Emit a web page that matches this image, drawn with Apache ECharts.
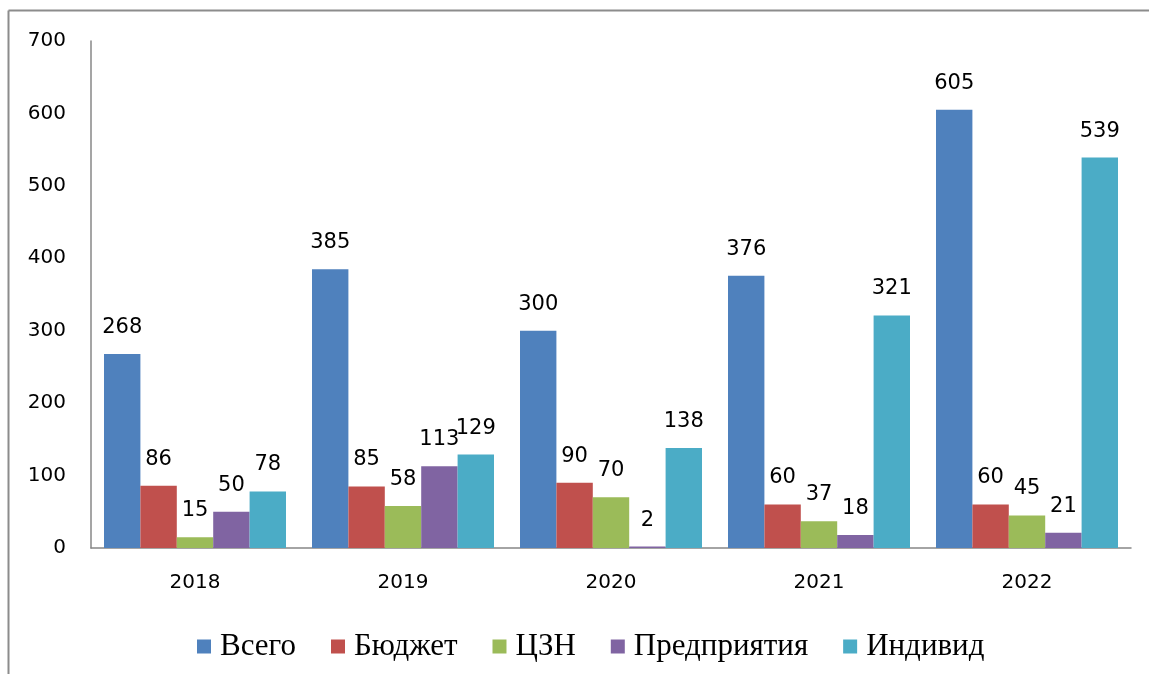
<!DOCTYPE html>
<html>
<head>
<meta charset="utf-8">
<script src="https://cdn.jsdelivr.net/npm/echarts@6/dist/echarts.min.js"></script>
<style>
  html, body { margin: 0; padding: 0; background: #fff; overflow: hidden; }
  #main { width: 1149px; height: 674px; }
</style>
</head>
<body>
<div id="main"></div>
<script>
var years = ['2018', '2019', '2020', '2021', '2022'];
var seriesNames = ['Всего', 'Бюджет', 'ЦЗН', 'Предприятия', 'Индивид'];
var vsego = [268, 385, 300, 376, 605];
var budget = [86, 85, 90, 60, 60];
var czn = [15, 58, 70, 37, 45];
var predpr = [50, 113, 2, 18, 21];
var individ = [78, 129, 138, 321, 539];
var colors = ['#4F81BD', '#C0504D', '#9BBB59', '#8064A2', '#4BACC6'];

var allData = [vsego, budget, czn, predpr, individ];

function makeSeries(i) {
    return {
        name: seriesNames[i],
        type: 'bar',
        data: allData[i],
        barGap: '0%',
        barCategoryGap: '12.5%',
        itemStyle: { color: colors[i] },
        label: {
            show: true,
            position: 'top',
            distance: 16,
            color: '#000',
            fontFamily: 'DejaVu Sans',
            fontSize: 21
        }
    };
}

var chart = echarts.init(document.getElementById('main'));
chart.setOption({
    animation: false,
    grid: { left: 91, top: 41, right: 18, bottom: 126 },
    legend: {
        left: 192,
        top: 626,
        itemWidth: 14,
        itemHeight: 14,
        itemGap: 35,
        icon: 'rect',
        textStyle: { fontFamily: 'Liberation Serif', fontSize: 31, color: '#000', padding: [0, 0, 0, 4] },
        data: seriesNames
    },
    xAxis: {
        type: 'category',
        data: years,
        axisLine: { lineStyle: { color: '#878787', width: 1.5 } },
        axisTick: { show: false },
        axisLabel: { color: '#000', fontFamily: 'DejaVu Sans', fontSize: 20, margin: 25 }
    },
    yAxis: {
        type: 'value',
        min: 0,
        max: 700,
        interval: 100,
        axisLine: { show: true, lineStyle: { color: '#878787', width: 1.5 } },
        axisTick: { show: false },
        splitLine: { show: false },
        axisLabel: { color: '#000', fontFamily: 'DejaVu Sans', fontSize: 20, margin: 25 }
    },
    graphic: [{
        type: 'line',
        shape: { x1: 8.5, y1: 10.5, x2: 1149, y2: 10.5 },
        style: { stroke: '#8c8c8c', lineWidth: 2 },
        silent: true
    }, {
        type: 'line',
        shape: { x1: 8.5, y1: 10.5, x2: 8.5, y2: 674 },
        style: { stroke: '#8c8c8c', lineWidth: 2 },
        silent: true
    }],
    series: [0, 1, 2, 3, 4].map(makeSeries)
});
</script>
</body>
</html>
